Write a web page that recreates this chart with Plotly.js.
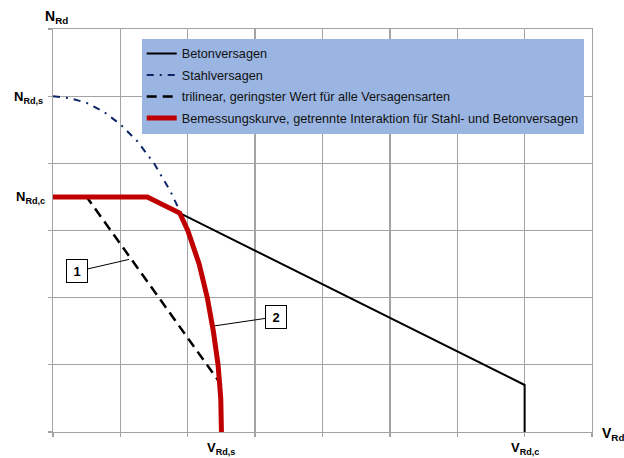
<!DOCTYPE html>
<html>
<head>
<meta charset="utf-8">
<script src="https://cdn.plot.ly/plotly-3.0.1.min.js"></script>
<style>html,body{margin:0;padding:0;background:#fff;}#chart{width:624px;height:458px;}</style>
</head>
<body>
<div id="chart"></div>
<script>
// Betonversagen (concrete failure)
const betonX = [0, 1.4, 7.0, 7.0];
const betonY = [3.5, 3.5, 0.7, 0.0];
// Stahlversagen (steel failure)
const stahlX = [0, 0.25, 0.5, 0.75, 1.0, 1.25, 1.5, 1.75, 1.9];
const stahlY = [5.0, 4.97, 4.9, 4.77, 4.58, 4.33, 4.0, 3.57, 3.25];
// trilinear, lowest value
const triX = [0, 0.5, 2.5];
const triY = [3.5, 3.5, 0.7];
// Bemessungskurve
const bemX = [0, 1.4, 1.88, 2.0, 2.17, 2.29, 2.38, 2.45, 2.49, 2.5];
const bemY = [3.5, 3.5, 3.26, 3.0, 2.5, 2.0, 1.5, 1.0, 0.5, 0.0];

const names = [
  'Betonversagen',
  'Stahlversagen',
  'trilinear, geringster Wert für alle Versagensarten',
  'Bemessungskurve, getrennte Interaktion für Stahl- und Betonversagen'
];

const traces = [
  {x: betonX, y: betonY, name: names[0], mode: 'lines', legendgroup: 'a',
   line: {color: '#000000', width: 2}},
  {x: stahlX, y: stahlY, name: names[1], mode: 'lines', legendgroup: 'b',
   line: {color: '#0b2566', width: 2, dash: '7px,6px,2px,6px'}},
  {x: triX, y: triY, name: names[2], mode: 'lines', legendgroup: 'c',
   line: {color: '#000000', width: 2.5, dash: '10px,6px'}},
  {x: bemX, y: bemY, name: names[3], mode: 'lines', legendgroup: 'd',
   line: {color: '#c00000', width: 5}}
];

const F = 'Liberation Sans, Arial, sans-serif';
const grid = '#a3a3a3';

const layout = {
  width: 624, height: 458,
  margin: {l: 53, r: 32, t: 29, b: 26},
  paper_bgcolor: '#ffffff', plot_bgcolor: '#ffffff',
  font: {family: F, size: 12, color: '#111111'},
  showlegend: true,
  legend: {
    x: 0.1646, y: 0.976, xanchor: 'left', yanchor: 'top',
    bgcolor: '#9ab5e2', borderwidth: 0,
    font: {family: F, size: 12.7, color: '#111111'},
    traceorder: 'grouped', tracegroupgap: 2
  },
  xaxis: {
    range: [0, 8], dtick: 1, tick0: 0, showticklabels: false,
    showgrid: true, gridcolor: grid, gridwidth: 1.3,
    zeroline: false, showline: true, linecolor: grid, linewidth: 1.3, mirror: true,
    ticks: 'outside', ticklen: 4, tickcolor: grid, tickwidth: 1.3, fixedrange: true
  },
  yaxis: {
    range: [0, 6], dtick: 1, tick0: 0, showticklabels: false,
    showgrid: true, gridcolor: grid, gridwidth: 1.3,
    zeroline: false, showline: true, linecolor: grid, linewidth: 1.3, mirror: true,
    ticks: 'outside', ticklen: 4, tickcolor: grid, tickwidth: 1.3, fixedrange: true
  },
  annotations: [
    {xref: 'x', yref: 'y', x: 0, y: 6, text: '<b>N<sub>Rd</sub></b>', showarrow: false,
     xanchor: 'left', yanchor: 'middle', xshift: -10, yshift: 12, font: {family: F, size: 14, color: '#000'}},
    {xref: 'x', yref: 'y', x: 0, y: 5, text: '<b>N<sub>Rd,s</sub></b>', showarrow: false,
     xanchor: 'right', yanchor: 'middle', xshift: -8, yshift: -1, font: {family: F, size: 13, color: '#000'}},
    {xref: 'x', yref: 'y', x: 0, y: 3.5, text: '<b>N<sub>Rd,c</sub></b>', showarrow: false,
     xanchor: 'right', yanchor: 'middle', xshift: -6, yshift: -1, font: {family: F, size: 13, color: '#000'}},
    {xref: 'x', yref: 'y', x: 2.5, y: 0, text: '<b>V<sub>Rd,s</sub></b>', showarrow: false,
     xanchor: 'center', yanchor: 'top', yshift: -6, font: {family: F, size: 13, color: '#000'}},
    {xref: 'x', yref: 'y', x: 7, y: 0, text: '<b>V<sub>Rd,c</sub></b>', showarrow: false,
     xanchor: 'center', yanchor: 'top', yshift: -6, font: {family: F, size: 13, color: '#000'}},
    {xref: 'paper', yref: 'y', x: 1, y: 0, text: '<b>V<sub>Rd</sub></b>', showarrow: false,
     xanchor: 'left', yanchor: 'middle', xshift: 8, yshift: -2, font: {family: F, size: 14, color: '#000'}},
    {xref: 'x', yref: 'y', x: 1.13, y: 2.57, ax: -52, ay: 12, text: '<b>1</b>',
     showarrow: true, arrowhead: 0, arrowwidth: 1, arrowcolor: '#000',
     bgcolor: '#ffffff', bordercolor: '#000', borderwidth: 1, borderpad: 3,
     width: 14, height: 16, font: {family: F, size: 13, color: '#000'}},
    {xref: 'x', yref: 'y', x: 2.40, y: 1.58, ax: 61, ay: -9, text: '<b>2</b>',
     showarrow: true, arrowhead: 0, arrowwidth: 1, arrowcolor: '#000',
     bgcolor: '#ffffff', bordercolor: '#000', borderwidth: 1, borderpad: 3,
     width: 14, height: 16, font: {family: F, size: 13, color: '#000'}}
  ]
};

Plotly.newPlot('chart', traces, layout, {displayModeBar: false, staticPlot: true});
</script>
</body>
</html>
